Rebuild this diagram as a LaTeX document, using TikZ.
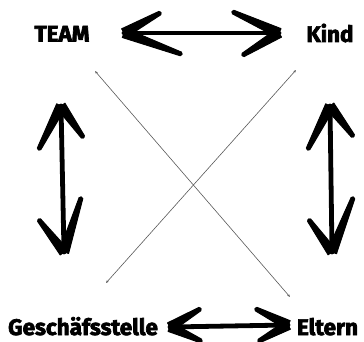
\documentclass[tikz,border=0pt]{standalone}
\usepackage{fontspec}
\setmainfont{Fira Sans}[BoldFeatures={FakeBold=3}]
\usetikzlibrary{calc,arrows.meta}
\newcommand{\myleg}[2]{%
  \fill[legfill] ($(#1)!4.8pt!90:(#2)$) -- ($(#2)!1.9pt!-90:(#1)$) -- ($(#2)!1.9pt!90:(#1)$) -- ($(#1)!4.8pt!-90:(#2)$) -- cycle;
  \fill (#2) circle (1.9pt);}
\begin{document}
\begin{tikzpicture}[x=1pt,y=-1pt,
  lab/.style={font=\fontsize{22.5}{26}\selectfont\bfseries, inner sep=0pt, anchor=base},
  shaft/.style={line width=4.8pt, line cap=round},
  legfill/.style={draw=black, line width=1pt, line join=round},
  diag/.style={draw=black!65, line width=0.6pt, {Stealth[length=3pt,width=2.4pt]}-{Stealth[length=3pt,width=2.4pt]}}]
\useasboundingbox (0,0) rectangle (364,342);
% labels
\node[lab] (team) at (62,41.5) {TEAM};
\node[lab] (kind) at (330,42) {Kind};
\node[lab] (gs) at (83,335) {Geschäfsstelle};
\node[lab] (eltern) at (327.5,335) {Eltern};
% top arrow
\coordinate (t1) at (124,33); \coordinate (t2) at (279,33);
\draw[shaft] (t1) -- (t2);
\coordinate (t1a) at (160,13); \coordinate (t1b) at (181,54);
\coordinate (t2a) at (233,12); \coordinate (t2b) at (243,55);
\myleg{t1}{t1a}\myleg{t1}{t1b}\myleg{t2}{t2a}\myleg{t2}{t2b}
% bottom arrow
\coordinate (b1) at (170,327); \coordinate (b2) at (288,325);
\draw[shaft] (b1) -- (b2);
\coordinate (b1a) at (200,309); \coordinate (b1b) at (201,341);
\coordinate (b2a) at (256,309); \coordinate (b2b) at (259,341);
\myleg{b1}{b1a}\myleg{b1}{b1b}\myleg{b2}{b2a}\myleg{b2}{b2b}
% left arrow
\coordinate (l1) at (61,106); \coordinate (l2) at (64,252);
\draw[shaft] (l1) -- (l2);
\coordinate (l1a) at (39,149); \coordinate (l1b) at (83,137);
\coordinate (l2a) at (39,220); \coordinate (l2b) at (81,198);
\myleg{l1}{l1a}\myleg{l1}{l1b}\myleg{l2}{l2a}\myleg{l2}{l2b}
% right arrow
\coordinate (r1) at (330,106); \coordinate (r2) at (332,252);
\draw[shaft] (r1) -- (r2);
\coordinate (r1a) at (308,149); \coordinate (r1b) at (353,136);
\coordinate (r2a) at (309,220); \coordinate (r2b) at (353,198);
\myleg{r1}{r1a}\myleg{r1}{r1b}\myleg{r2}{r2a}\myleg{r2}{r2b}
% diagonals
\coordinate (d1) at (95,71); \coordinate (d2) at (290,297);
\coordinate (d3) at (296,70); \coordinate (d4) at (106,283);
\draw[diag] (d1) -- (d2);
\draw[diag] (d3) -- (d4);
\end{tikzpicture}
\end{document}
